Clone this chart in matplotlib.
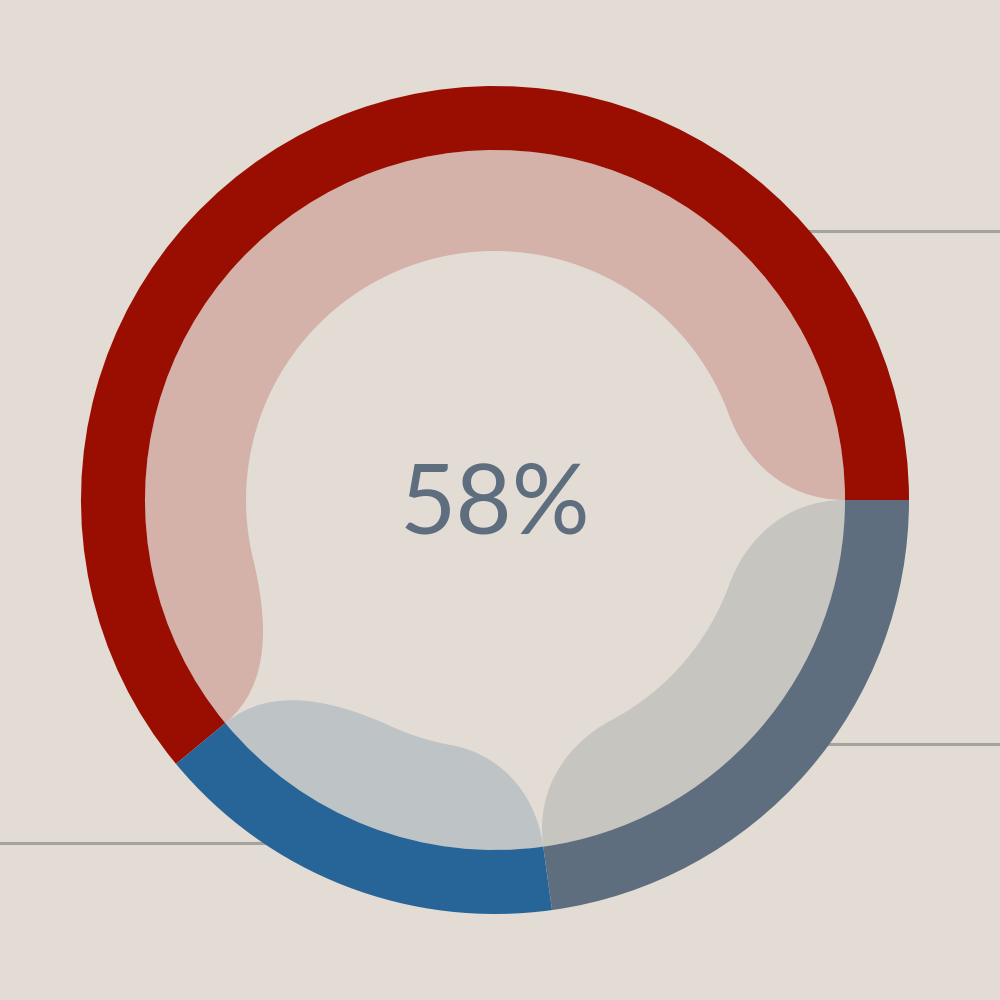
import numpy as np
import matplotlib
matplotlib.use("Agg")
import matplotlib.pyplot as plt
from matplotlib.patches import Wedge, PathPatch
from matplotlib.path import Path

'''Chart data'''
labels = ["A", "B", "C"]
values = [61.0, 16.2, 22.8]          # share of the ring, percent
center_label = "58%"
ring_colors = ["#990e00", "#276497", "#5e6e7e"]
blob_colors = ["#d4b2a9", "#bec3c6", "#c7c5c0"]
# corner shape of each inner blob: (span at start, span at end) in degrees
blob_corners = [(20, 26), (26, 18), (20, 20)]
guide_rows = [231, 744, 843]          # y of the gray guide lines (px from top)
guide_side = ["right", "right", "left"]

bg = "#e2dcd5"
cx, cy = 495, 500
R_out, R_ring = 414, 350
R_in = 249


def pol(r, deg):
    t = np.deg2rad(deg)
    return np.array([r * np.cos(t), r * np.sin(t)])


def blob_path(t0, t1, d0, d1):
    '''inner blob: outer arc + S-shaped ends down to the inner circle'''
    verts, codes = [], []
    # outer arc from t0 to t1
    arc = np.linspace(t0, t1, 120)
    for i, a in enumerate(arc):
        verts.append(pol(R_ring, a))
        codes.append(Path.MOVETO if i == 0 else Path.LINETO)
    # end corner: tip at t1 -> inner circle at t1-d1
    p0 = pol(R_ring, t1)
    p3 = pol(R_in, t1 - d1)
    tip_len = (R_ring - R_in) * 0.6
    p1 = pol(R_ring - tip_len, t1)
    tang = np.array([np.sin(np.deg2rad(t1 - d1)), -np.cos(np.deg2rad(t1 - d1))])
    p2 = p3 - tang * R_in * np.deg2rad(d1) * 0.55
    verts += [p1, p2, p3]
    codes += [Path.CURVE4] * 3
    # inner arc back
    arc = np.linspace(t1 - d1, t0 + d0, 120)
    for a in arc[1:]:
        verts.append(pol(R_in, a))
        codes.append(Path.LINETO)
    # start corner: inner circle at t0+d0 -> tip at t0
    q0 = pol(R_in, t0 + d0)
    q3 = pol(R_ring, t0)
    tang = np.array([-np.sin(np.deg2rad(t0 + d0)), np.cos(np.deg2rad(t0 + d0))])
    q1 = q0 - tang * R_in * np.deg2rad(d0) * 0.55
    q2 = pol(R_ring - tip_len, t0)
    verts += [q1, q2, q3]
    codes += [Path.CURVE4] * 3
    verts.append(verts[0])
    codes.append(Path.CLOSEPOLY)
    return Path(np.array(verts), codes)


fig = plt.figure(figsize=(10, 10), dpi=100, facecolor=bg)
ax = fig.add_axes([0, 0, 1, 1])
ax.set_facecolor(bg)
ax.set_xlim(-cx, 1000 - cx)
ax.set_ylim(-(1000 - cy), cy)
ax.set_aspect("equal")
ax.axis("off")

# guide lines behind the ring
for row, side in zip(guide_rows, guide_side):
    y = cy - row
    if side == "right":
        ax.plot([300, 1000 - cx], [y, y], color="#a5a39e", lw=2.2, zorder=1)
    else:
        ax.plot([-cx, -200], [y, y], color="#a5a39e", lw=2.2, zorder=1)

angles = np.concatenate([[0], np.cumsum(values) / sum(values) * 360])
for i in range(len(values)):
    t0, t1 = angles[i], angles[i + 1]
    ax.add_patch(Wedge((0, 0), R_out, t0, t1, width=R_out - R_ring,
                       facecolor=ring_colors[i], edgecolor="none", zorder=3))
    d0, d1 = blob_corners[i]
    ax.add_patch(PathPatch(blob_path(t0, t1, d0, d1), facecolor=blob_colors[i],
                           edgecolor="none", zorder=2))

ax.text(0, -7, center_label, ha="center", va="center", fontsize=70,
        family="Lato", fontweight="normal", color="#5e6e7e", zorder=4)

fig.savefig("out.png", dpi=100, facecolor=bg)
